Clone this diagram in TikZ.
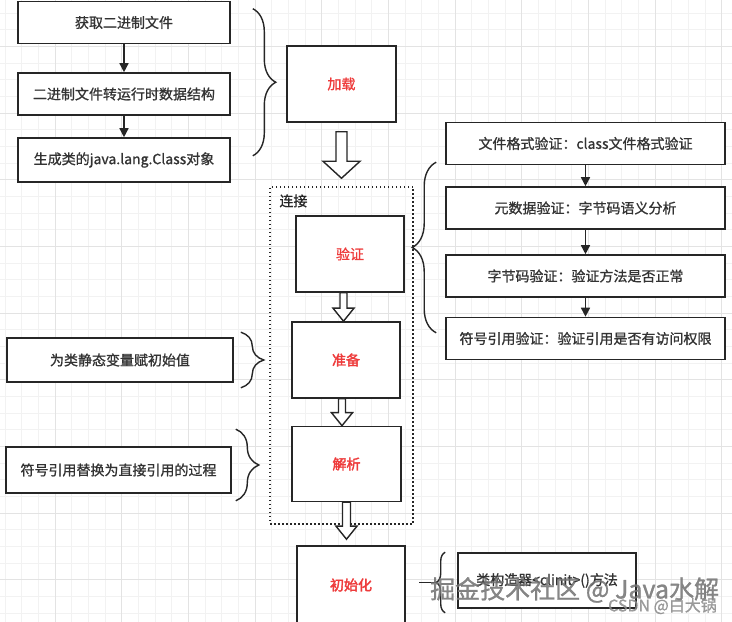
\documentclass[tikz,border=0pt]{standalone}
\usepackage{fontspec}
\newfontfamily\cjk{Noto Sans CJK SC}[FakeBold=1, BoldFont={Noto Sans CJK SC}, BoldFeatures={FakeBold=2.5}]
\usepackage{xcolor}
\usetikzlibrary{arrows.meta}
\usetikzlibrary{calc}
\usetikzlibrary{positioning}
\usetikzlibrary{decorations.pathreplacing}
\definecolor{stagered}{HTML}{EE3B3B}
\definecolor{linegray}{HTML}{262626}

\begin{document}
\begin{tikzpicture}[x=1pt, y=1pt, font=\cjk\fontsize{14}{16}\selectfont,
    box/.style={draw=linegray, line width=1.6pt, fill=white, text=black!80, minimum height=42pt, inner sep=2pt},
    stage/.style={box, minimum width=108pt, minimum height=76pt, text=stagered},
    flow/.style={draw=linegray, line width=1.5pt, -{Triangle[length=9pt,width=9pt]}},
    curly/.style={draw=linegray, line width=1.4pt, decorate, decoration={brace, amplitude=#1}},
    hollow/.style args={#1/#2/#3}{draw=linegray, line width=1.4pt, fill=white, line join=miter,
      to path={let \p1=(\tikztostart), \p2=(\tikztotarget) in
        (\x1-#1,\y1) -- (\x1-#1,\y2+#3) -- (\x1-#2,\y2+#3) -- (\x1,\y2)
        -- (\x1+#2,\y2+#3) -- (\x1+#1,\y2+#3) -- (\x1+#1,\y1) -- cycle}}]
  \useasboundingbox (0,0) rectangle (732,622);
  \fill[white] (0,0) rectangle (732,622);
  % grid paper
  \begin{scope}[shift={(55,109)}]
    \draw[black!5, line width=0.5pt, step=16.667pt] (-60,-115) grid (680,515);
    \draw[black!11, line width=0.6pt, step=66.667pt] (-60,-115) grid (680,515);
  \end{scope}

  % loading
  \node[box, minimum width=212pt] (huoqu) at (124,599.5) {获取二进制文件};
  \node[box, minimum width=212pt] (zhuanhuan) [below of=huoqu, node distance=71.5pt] {二进制文件转运行时数据结构};
  \node[box, minimum width=212pt, minimum height=44pt] (shengcheng) [below of=zhuanhuan, node distance=66pt] {生成类的java.lang.Class对象};
  \node[stage, minimum width=109pt] (jiazai) at (341.5,538) {加载};
  \draw[flow] (huoqu) -- (zhuanhuan);
  \draw[flow] (zhuanhuan) -- (shengcheng);
  \draw[curly=23pt] ([xshift=22pt,yshift=-8pt]huoqu.north east) -- ([xshift=22pt,yshift=27pt]shengcheng.south east);

  % linking
  \node[draw=linegray, line width=1.5pt, dash pattern=on 1.5pt off 2.5pt, minimum width=143pt, minimum height=337pt] (lianjie) at (341.5,266.5) {};
  \node[anchor=north west, inner sep=0pt, text=black!85] (lianjiebiaoti) at ([xshift=10pt,yshift=-8pt]lianjie.north west) {连接};
  \node[stage] (yanzheng) at (350,368) {验证};
  \node[stage] (zhunbei) [below of=yanzheng, node distance=106pt, xshift=-4pt] {\bfseries 准备};
  \node[stage, minimum width=109pt, minimum height=75pt] (jiexi) [below of=zhunbei, node distance=104pt, xshift=0.5pt] {\bfseries 解析};
  \node[stage, minimum height=78pt] (chushihua) [below of=jiexi, node distance=121pt, xshift=4.5pt] {\bfseries 初始化};
  \draw[hollow=5.5pt/18.5pt/17pt] ([yshift=-9pt]jiazai.south) to ([yshift=8pt]lianjie.north);
  \draw[hollow=3.5pt/10.5pt/13pt] ([xshift=-6.5pt]yanzheng.south) to (zhunbei.north);
  \draw[hollow=3.5pt/10.5pt/13pt] ([xshift=-4pt]zhunbei.south) to (jiexi.north);
  \draw[hollow=4pt/10.5pt/13pt] (jiexi.south) to ([yshift=6pt]chushihua.north);

  % verification
  \node[box, minimum width=279pt] (geshi) at (585.5,478.5) {文件格式验证：class文件格式验证};
  \node[box, minimum width=279pt] (yuanshuju) [below of=geshi, node distance=64.5pt] {元数据验证：字节码语义分析};
  \node[box, minimum width=279pt] (zijiema) [below of=yuanshuju, node distance=68pt] {字节码验证：验证方法是否正常};
  \node[box, minimum width=279pt] (fuhao) [below of=zijiema, node distance=62.5pt] {符号引用验证：验证引用是否有访问权限};
  \draw[flow] (geshi) -- (yuanshuju);
  \draw[flow] (yuanshuju) -- (zijiema);
  \draw[flow] (zijiema) -- (fuhao);
  \draw[curly=24pt] ([xshift=-9pt,yshift=27.5pt]fuhao.south west) -- ([xshift=-9pt,yshift=-40.5pt]geshi.north west);

  % preparation, resolution
  \node[box, minimum width=226pt, minimum height=44pt] (zhunbeishuoming) at (120,262) {为类静态变量赋初始值};
  \node[box, minimum width=225pt, minimum height=46pt] (jiexishuoming) at (118.5,152) {符号引用替换为直接引用的过程};
  \draw[curly=23pt] ([xshift=7pt,yshift=5pt]zhunbeishuoming.north east) -- ([xshift=7pt,yshift=-5pt]zhunbeishuoming.south east);
  \draw[curly=23pt] ([xshift=4pt,yshift=17pt]jiexishuoming.north east) -- ([xshift=4pt,yshift=-7pt]jiexishuoming.south east);

  % initialization
  \node[box, minimum width=178pt, minimum height=55pt] (clinit) at (547,41.5) {类构造器<clinit>()方法};
  \draw[curly=9pt] ([xshift=-12pt,yshift=-4pt]clinit.south west) -- ([xshift=-12pt]clinit.north west);
  \coordinate (chujian) at ([xshift=-21pt,yshift=-2pt]clinit.west);
  \draw[draw=linegray, line width=1.4pt] (chujian) -- ++(-17pt,0);

  % watermark
  \node[anchor=west, inner sep=0pt, text=black!55, opacity=0.85, font=\cjk\fontsize{25}{28}\selectfont] (shuiyin) at (430,32) {掘金技术社区 @ Java水解};
  \node[anchor=east, inner sep=0pt, text=black!45, opacity=0.85, font=\cjk\fontsize{16}{18}\selectfont] (csdn) at (717,16) {CSDN @白大锅};
\end{tikzpicture}
\end{document}
